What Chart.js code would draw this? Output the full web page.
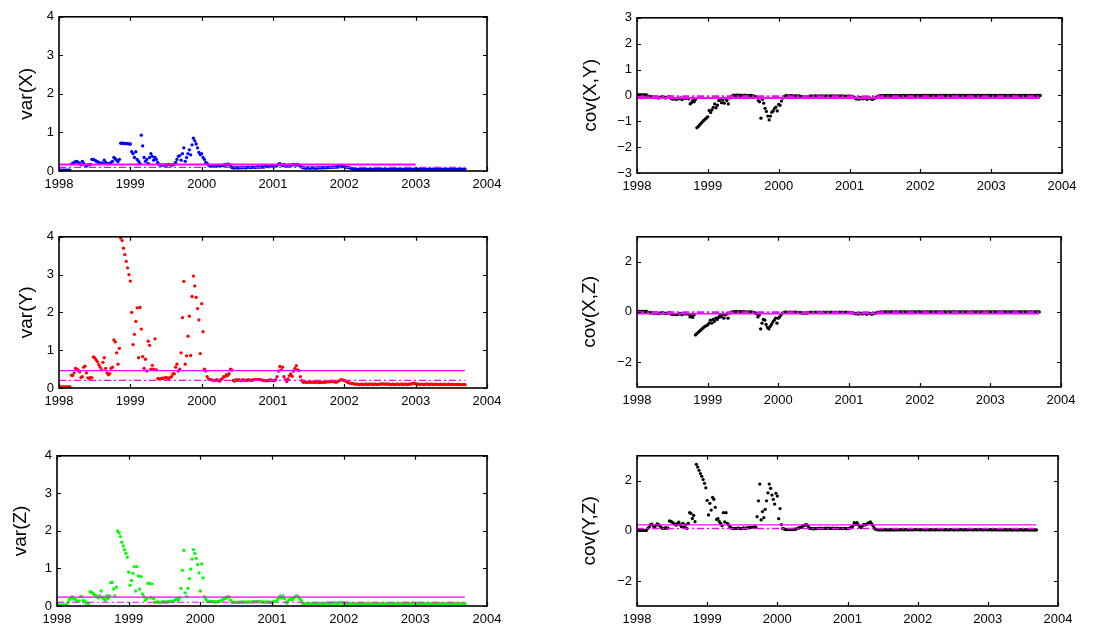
<!DOCTYPE html>
<html><head><meta charset="utf-8">
<script src="https://cdn.jsdelivr.net/npm/chart.js@4.4.1/dist/chart.umd.min.js"></script>
<style>
html,body{margin:0;padding:0;background:#fff;}
#fig{position:relative;width:1119px;height:628px;overflow:hidden;background:#fff;}
#fig canvas{position:absolute;}
</style></head><body><div id="fig"></div>
<script>
// ---- data (weekly samples starting at 1998.0) ----
const startYear = 1998;
const weeksPerYear = 52;
const xTicks = [1998, 1999, 2000, 2001, 2002, 2003, 2004];
const varTicks = [0, 1, 2, 3, 4];
const covXYTicks = [-3, -2, -1, 0, 1, 2, 3];
const covTicks = [-2, 0, 2];
const levelStart = 1998;
const levelEnd = 2003.69;
const varXMeanEnd = 2003.0;

const varX = [
0.02,0.02,0.02,0.02,0.02,0.02,0.02,0.02,0.02,0.18,0.20,0.22,0.24,
0.25,0.22,0.20,0.16,0.25,0.20,0.15,0.13,0.16,0.16,0.17,0.30,0.30,
0.28,0.26,0.24,0.22,0.20,0.21,0.20,0.28,0.22,0.19,0.19,0.20,0.22,
0.25,0.35,0.32,0.28,0.24,0.30,0.72,0.72,0.72,0.71,0.71,0.71,0.70,
0.70,0.50,0.45,0.35,0.50,0.30,0.25,0.20,0.93,0.65,0.35,0.25,0.30,
0.20,0.35,0.45,0.38,0.28,0.35,0.30,0.22,0.16,0.16,0.15,0.15,0.16,
0.15,0.16,0.17,0.16,0.15,0.16,0.17,0.22,0.30,0.38,0.40,0.28,0.45,
0.60,0.25,0.35,0.45,0.55,0.42,0.68,0.85,0.78,0.70,0.60,0.48,0.42,
0.45,0.35,0.30,0.22,0.20,0.15,0.14,0.13,0.14,0.13,0.12,0.13,0.15,
0.13,0.14,0.15,0.14,0.17,0.15,0.18,0.17,0.13,0.09,0.08,0.08,0.09,
0.08,0.08,0.09,0.08,0.09,0.09,0.08,0.09,0.10,0.09,0.09,0.10,0.10,
0.09,0.10,0.11,0.10,0.10,0.11,0.10,0.11,0.12,0.12,0.11,0.12,0.12,
0.12,0.11,0.12,0.14,0.18,0.19,0.16,0.14,0.17,0.15,0.13,0.15,0.16,
0.14,0.16,0.17,0.16,0.15,0.17,0.16,0.12,0.10,0.08,0.08,0.07,0.08,
0.08,0.07,0.08,0.08,0.08,0.07,0.08,0.08,0.09,0.08,0.08,0.09,0.08,
0.09,0.09,0.10,0.09,0.10,0.10,0.10,0.11,0.10,0.11,0.12,0.11,0.12,
0.11,0.10,0.10,0.09,0.08,0.07,0.06,0.05,0.05,0.05,0.04,0.05,0.05,
0.05,0.04,0.05,0.05,0.04,0.04,0.05,0.05,0.04,0.05,0.04,0.05,0.05,
0.04,0.05,0.05,0.04,0.05,0.05,0.04,0.04,0.05,0.05,0.04,0.05,0.05,
0.05,0.04,0.05,0.05,0.04,0.05,0.05,0.05,0.04,0.05,0.05,0.04,0.05,
0.05,0.05,0.04,0.05,0.05,0.04,0.05,0.05,0.04,0.05,0.05,0.04,0.05,
0.05,0.04,0.05,0.05,0.05,0.04,0.05,0.05,0.04,0.05,0.05,0.04,0.05,
0.05,0.04,0.05,0.05,0.04,0.05,0.05,0.04,0.05,0.05,0.05
];

const varY = [
0.03,0.03,0.03,0.03,0.03,0.03,0.03,0.03,0.03,0.34,0.33,0.40,0.52,
0.50,0.47,0.43,0.28,0.30,0.55,0.58,0.40,0.27,0.25,0.28,0.27,0.82,
0.80,0.75,0.70,0.62,0.55,0.48,0.68,0.80,0.52,0.40,0.35,0.38,0.52,
0.55,1.27,1.22,0.93,0.63,1.05,3.97,3.90,3.70,3.53,3.35,3.18,3.00,
2.83,2.00,1.15,1.42,1.76,2.12,0.80,2.13,1.56,0.83,0.52,0.76,0.45,
1.24,1.13,0.50,0.60,0.50,1.30,0.48,0.25,0.24,0.25,0.26,0.25,0.27,
0.28,0.26,0.25,0.28,0.30,0.37,0.38,0.55,0.63,0.45,0.50,0.93,1.86,
2.82,0.63,0.85,1.37,1.90,0.86,2.42,2.96,2.70,2.40,2.10,1.80,0.91,
2.23,1.49,0.50,0.45,0.30,0.24,0.22,0.22,0.21,0.20,0.20,0.22,0.20,
0.18,0.22,0.25,0.30,0.30,0.35,0.33,0.38,0.50,0.47,0.20,0.18,0.22,
0.20,0.22,0.20,0.19,0.22,0.20,0.21,0.20,0.22,0.21,0.20,0.21,0.22,
0.22,0.23,0.22,0.23,0.22,0.21,0.20,0.20,0.19,0.20,0.19,0.22,0.20,
0.20,0.19,0.22,0.30,0.45,0.57,0.48,0.55,0.30,0.22,0.17,0.24,0.33,
0.37,0.31,0.45,0.52,0.59,0.48,0.46,0.30,0.20,0.15,0.16,0.15,0.15,
0.16,0.15,0.15,0.16,0.15,0.15,0.16,0.15,0.14,0.15,0.15,0.16,0.15,
0.16,0.17,0.16,0.17,0.18,0.17,0.16,0.15,0.17,0.19,0.21,0.22,0.21,
0.20,0.18,0.16,0.14,0.13,0.12,0.12,0.11,0.10,0.10,0.10,0.09,0.10,
0.10,0.09,0.10,0.10,0.09,0.10,0.10,0.10,0.09,0.10,0.10,0.09,0.10,
0.10,0.11,0.11,0.10,0.11,0.10,0.10,0.10,0.09,0.10,0.10,0.09,0.10,
0.10,0.09,0.10,0.10,0.09,0.10,0.10,0.09,0.10,0.10,0.11,0.12,0.13,
0.11,0.10,0.10,0.09,0.10,0.10,0.09,0.10,0.10,0.10,0.09,0.10,0.10,
0.09,0.10,0.10,0.09,0.09,0.10,0.09,0.09,0.10,0.09,0.09,0.10,0.09,
0.09,0.10,0.09,0.09,0.09,0.10,0.09,0.09,0.09,0.09,0.09
];

const varZ = [
0.03,0.03,0.03,0.03,0.03,0.03,0.03,0.03,0.10,0.17,0.22,0.25,0.20,
0.18,0.15,0.13,0.13,0.25,0.25,0.15,0.12,0.08,0.08,0.07,0.38,0.36,
0.34,0.30,0.28,0.25,0.22,0.27,0.40,0.22,0.20,0.15,0.27,0.20,0.27,
0.62,0.63,0.45,0.27,0.50,2.00,1.95,1.85,1.70,1.60,1.50,1.40,1.30,
0.90,0.55,0.68,0.87,1.05,0.40,1.05,0.80,0.45,0.78,0.32,0.25,0.15,
0.20,0.60,0.60,0.22,0.59,0.20,0.10,0.10,0.11,0.10,0.09,0.10,0.12,
0.10,0.11,0.10,0.12,0.11,0.13,0.12,0.13,0.17,0.20,0.15,0.22,0.47,
0.95,1.48,0.35,0.25,0.47,0.73,0.98,1.25,1.50,1.40,1.27,1.10,0.88,
0.40,1.12,0.75,0.25,0.18,0.12,0.12,0.13,0.12,0.11,0.12,0.10,0.11,
0.12,0.13,0.14,0.16,0.18,0.20,0.22,0.25,0.24,0.15,0.10,0.09,0.10,
0.10,0.09,0.10,0.10,0.11,0.10,0.10,0.11,0.10,0.11,0.11,0.10,0.11,
0.12,0.11,0.12,0.11,0.12,0.11,0.10,0.11,0.10,0.10,0.11,0.10,0.10,
0.10,0.11,0.12,0.13,0.17,0.22,0.27,0.22,0.27,0.20,0.10,0.08,0.15,
0.17,0.20,0.17,0.22,0.25,0.27,0.25,0.20,0.15,0.08,0.07,0.06,0.06,
0.06,0.07,0.06,0.06,0.07,0.06,0.06,0.07,0.06,0.07,0.07,0.06,0.07,
0.07,0.08,0.07,0.07,0.08,0.07,0.08,0.08,0.07,0.08,0.08,0.09,0.08,
0.08,0.07,0.07,0.06,0.06,0.07,0.06,0.06,0.07,0.06,0.06,0.06,0.07,
0.06,0.06,0.07,0.06,0.06,0.06,0.07,0.06,0.06,0.06,0.07,0.06,0.06,
0.06,0.07,0.06,0.06,0.06,0.06,0.07,0.06,0.06,0.06,0.06,0.07,0.06,
0.06,0.06,0.07,0.06,0.06,0.06,0.07,0.06,0.06,0.07,0.07,0.08,0.07,
0.07,0.06,0.06,0.06,0.07,0.06,0.06,0.06,0.06,0.07,0.06,0.06,0.06,
0.06,0.06,0.07,0.06,0.06,0.06,0.06,0.06,0.07,0.06,0.06,0.06,0.06,
0.06,0.06,0.06,0.07,0.06,0.06,0.06,0.06,0.06,0.06,0.06
];

const covXY = [
0.02,0.02,0.02,0.02,0.02,0.02,0.02,0.02,-0.02,-0.05,-0.06,-0.05,-0.08,
-0.07,-0.06,-0.09,-0.10,-0.08,-0.06,-0.05,-0.07,-0.10,-0.08,-0.06,-0.05,-0.12,
-0.14,-0.13,-0.14,-0.15,-0.13,-0.12,-0.10,-0.16,-0.12,-0.10,-0.12,-0.10,-0.13,
-0.33,-0.28,-0.20,-0.25,-0.15,-1.25,-1.20,-1.14,-1.08,-1.02,-0.97,-0.92,-0.87,
-0.83,-0.58,-0.66,-0.56,-0.46,-0.33,-0.48,-0.38,-0.20,-0.15,-0.28,-0.18,-0.30,
-0.12,-0.20,-0.33,-0.10,-0.05,-0.02,0.01,0.00,0.01,0.01,0.00,0.01,0.00,
0.00,0.01,0.00,-0.01,0.00,-0.01,0.00,-0.02,-0.03,-0.05,-0.08,-0.20,-0.25,
-0.88,-0.15,-0.30,-0.50,-0.62,-0.80,-0.95,-0.80,-0.65,-0.60,-0.50,-0.45,-0.60,
-0.35,-0.38,-0.22,-0.10,-0.04,-0.02,-0.01,-0.02,-0.02,-0.01,-0.02,-0.02,-0.03,
-0.02,-0.03,-0.02,-0.04,-0.05,-0.06,-0.07,-0.06,-0.08,-0.05,-0.03,-0.02,-0.03,
-0.03,-0.02,-0.03,-0.03,-0.02,-0.03,-0.02,-0.03,-0.03,-0.02,-0.03,-0.03,-0.02,
-0.03,-0.02,-0.03,-0.03,-0.02,-0.03,-0.03,-0.02,-0.03,-0.03,-0.04,-0.03,-0.03,
-0.03,-0.03,-0.04,-0.06,-0.10,-0.14,-0.10,-0.15,-0.08,-0.12,-0.13,-0.10,-0.12,
-0.15,-0.12,-0.10,-0.14,-0.15,-0.12,-0.10,-0.06,-0.03,-0.02,-0.01,-0.01,-0.01,
-0.01,-0.01,0.00,-0.01,-0.01,0.00,-0.01,-0.01,0.00,-0.01,-0.01,0.00,-0.01,
-0.01,0.00,-0.01,-0.01,0.00,-0.01,0.00,-0.01,-0.01,0.00,-0.01,0.00,-0.01,
0.00,-0.01,0.00,0.00,-0.01,0.00,0.00,-0.01,0.00,0.00,-0.01,0.00,0.00,
-0.01,0.00,0.00,-0.01,0.00,0.00,0.00,-0.01,0.00,0.00,-0.01,0.00,0.00,
0.00,-0.01,0.00,0.00,-0.01,0.00,0.00,0.00,-0.01,0.00,0.00,-0.01,0.00,
0.00,0.00,-0.01,0.00,0.00,-0.01,0.00,0.00,0.00,-0.01,0.00,0.00,0.00,
0.00,-0.01,0.00,0.00,0.00,-0.01,0.00,0.00,-0.01,0.00,0.00,0.00,-0.01,
0.00,0.00,-0.01,0.00,0.00,0.00,-0.01,0.00,0.00,0.00,-0.01,0.00,0.00,
0.00,-0.01,0.00,0.00,0.00,-0.01,0.00,0.00,0.00,0.00,0.00
];

const covXZ = [
0.02,0.02,0.02,0.02,0.02,0.02,0.02,0.02,-0.01,-0.03,-0.04,-0.03,-0.05,
-0.05,-0.04,-0.06,-0.07,-0.05,-0.04,-0.03,-0.05,-0.07,-0.05,-0.04,-0.03,-0.08,
-0.10,-0.09,-0.10,-0.11,-0.09,-0.08,-0.07,-0.11,-0.08,-0.07,-0.08,-0.07,-0.09,
-0.20,-0.15,-0.22,-0.12,-0.92,-0.87,-0.82,-0.77,-0.72,-0.67,-0.62,-0.58,-0.55,
-0.52,-0.45,-0.33,-0.45,-0.30,-0.38,-0.25,-0.30,-0.22,-0.15,-0.20,-0.10,-0.25,
-0.12,-0.08,-0.25,-0.05,-0.02,0.00,0.01,0.00,0.01,0.00,0.01,0.00,0.00,
0.01,0.00,0.00,-0.01,0.00,-0.01,0.00,-0.01,-0.02,-0.04,-0.08,-0.20,-0.12,
-0.68,-0.45,-0.30,-0.33,-0.50,-0.62,-0.68,-0.58,-0.50,-0.40,-0.33,-0.25,-0.45,
-0.25,-0.20,-0.12,-0.05,-0.02,-0.01,-0.01,-0.02,-0.01,-0.01,-0.02,-0.01,-0.02,
-0.01,-0.02,-0.02,-0.03,-0.04,-0.05,-0.05,-0.04,-0.05,-0.03,-0.02,-0.01,-0.02,
-0.02,-0.01,-0.02,-0.02,-0.01,-0.02,-0.02,-0.01,-0.02,-0.02,-0.01,-0.02,-0.02,
-0.01,-0.02,-0.02,-0.01,-0.02,-0.02,-0.01,-0.02,-0.01,-0.02,-0.02,-0.01,-0.02,
-0.02,-0.02,-0.03,-0.04,-0.06,-0.08,-0.06,-0.09,-0.05,-0.07,-0.08,-0.06,-0.07,
-0.09,-0.07,-0.06,-0.08,-0.09,-0.07,-0.06,-0.04,-0.02,-0.01,-0.01,0.00,-0.01,
0.00,-0.01,0.00,0.00,-0.01,0.00,0.00,-0.01,0.00,0.00,-0.01,0.00,0.00,
-0.01,0.00,0.00,-0.01,0.00,0.00,-0.01,0.00,0.00,0.00,-0.01,0.00,0.00,
0.00,-0.01,0.00,0.00,-0.01,0.00,0.00,-0.01,0.00,0.00,-0.01,0.00,0.00,
-0.01,0.00,0.00,-0.01,0.00,0.00,0.00,-0.01,0.00,0.00,-0.01,0.00,0.00,
0.00,-0.01,0.00,0.00,-0.01,0.00,0.00,0.00,-0.01,0.00,0.00,-0.01,0.00,
0.00,0.00,-0.01,0.00,0.00,-0.01,0.00,0.00,0.00,-0.01,0.00,0.00,0.00,
0.00,-0.01,0.00,0.00,0.00,-0.01,0.00,0.00,-0.01,0.00,0.00,0.00,-0.01,
0.00,0.00,-0.01,0.00,0.00,0.00,-0.01,0.00,0.00,0.00,-0.01,0.00,0.00,
0.00,-0.01,0.00,0.00,0.00,-0.01,0.00,0.00,0.00,0.00,0.00
];

const covYZ = [
0.02,0.02,0.02,0.02,0.02,0.02,0.02,0.02,0.10,0.15,0.25,0.27,0.20,
0.15,0.22,0.28,0.25,0.20,0.13,0.10,0.10,0.12,0.12,0.11,0.40,0.38,
0.35,0.30,0.27,0.23,0.30,0.35,0.24,0.17,0.30,0.15,0.24,0.10,0.30,
0.73,0.70,0.50,0.62,0.37,2.66,2.55,2.42,2.29,2.18,2.05,1.90,1.72,
1.22,0.64,1.10,0.83,1.34,1.26,0.94,0.46,0.49,0.37,0.30,0.21,0.73,
0.36,0.73,0.30,0.24,0.15,0.12,0.10,0.09,0.10,0.10,0.11,0.10,0.09,
0.10,0.12,0.10,0.11,0.13,0.12,0.14,0.15,0.14,0.16,0.15,0.57,1.20,
1.87,0.44,0.77,0.53,0.86,1.20,1.52,1.87,1.70,1.43,1.26,1.07,1.50,
1.39,0.49,0.89,0.25,0.10,0.08,0.06,0.05,0.06,0.05,0.06,0.05,0.07,
0.06,0.08,0.10,0.12,0.14,0.16,0.20,0.22,0.25,0.24,0.18,0.10,0.09,
0.10,0.08,0.10,0.09,0.10,0.10,0.11,0.10,0.10,0.10,0.11,0.10,0.11,
0.10,0.10,0.11,0.10,0.10,0.11,0.10,0.09,0.10,0.09,0.10,0.10,0.09,
0.09,0.10,0.12,0.15,0.20,0.33,0.26,0.33,0.25,0.18,0.13,0.20,0.26,
0.24,0.26,0.30,0.33,0.36,0.28,0.20,0.10,0.06,0.05,0.04,0.05,0.04,
0.04,0.05,0.04,0.04,0.05,0.04,0.04,0.05,0.04,0.04,0.05,0.04,0.05,
0.04,0.05,0.05,0.04,0.05,0.05,0.04,0.05,0.05,0.04,0.05,0.05,0.05,
0.05,0.05,0.04,0.05,0.05,0.05,0.04,0.05,0.05,0.04,0.05,0.05,0.05,
0.04,0.05,0.05,0.04,0.05,0.05,0.05,0.04,0.05,0.05,0.04,0.05,0.05,
0.05,0.04,0.05,0.05,0.04,0.05,0.05,0.05,0.04,0.05,0.05,0.04,0.05,
0.05,0.05,0.04,0.05,0.05,0.04,0.05,0.05,0.05,0.04,0.05,0.05,0.05,
0.04,0.05,0.05,0.04,0.05,0.05,0.04,0.05,0.04,0.04,0.05,0.04,0.04,
0.05,0.04,0.04,0.05,0.04,0.04,0.04,0.05,0.04,0.04,0.04,0.05,0.04,
0.04,0.04,0.04,0.05,0.04,0.04,0.04,0.04,0.04,0.04,0.04
];

// reference levels: [solid, dash-dot]
const varXLevels = [0.17, 0.095];
const varYLevels = [0.46, 0.20];
const varZLevels = [0.235, 0.10];
const covXYLevels = [-0.10, -0.03];
const covXZLevels = [-0.075, -0.015];
const covYZLevels = [0.24, 0.10];

// ---- rendering ----
const FONT = '"Liberation Sans", Arial, Helvetica, sans-serif';
const fig = document.getElementById('fig');

function toPoints(vals) {
  return vals.map((v, i) => ({ x: startYear + i / weeksPerYear, y: v }));
}

const boxTicks = {
  id: 'boxTicks',
  afterDraw(chart) {
    const { ctx, chartArea: a } = chart;
    const xs = chart.scales.x, ys = chart.scales.y;
    const tl = 4;
    ctx.save();
    ctx.strokeStyle = '#000';
    ctx.lineWidth = 1.2;
    ctx.beginPath();
    xs.ticks.forEach(t => {
      const p = Math.round(xs.getPixelForValue(t.value)) + 0.5;
      ctx.moveTo(p, a.bottom); ctx.lineTo(p, a.bottom - tl);
      ctx.moveTo(p, a.top); ctx.lineTo(p, a.top + tl);
    });
    ys.ticks.forEach(t => {
      const p = Math.round(ys.getPixelForValue(t.value)) + 0.5;
      ctx.moveTo(a.left, p); ctx.lineTo(a.left + tl, p);
      ctx.moveTo(a.right, p); ctx.lineTo(a.right - tl, p);
    });
    ctx.stroke();
    ctx.lineWidth = 1.6;
    ctx.strokeRect(a.left, a.top, a.right - a.left, a.bottom - a.top);
    ctx.restore();
  }
};

const panels = [
  { box: {l: 59, t: 14, r: 487, b: 171}, axisW: 56, titleX: 27, title: 'var(X)', values: varX, color: '#0000ff',
    levels: varXLevels, meanEnd: varXMeanEnd, yMin: 0, yMax: 4, yTicks: varTicks, meanW: 2, medW: 1.2 },
  { box: {l: 637, t: 15, r: 1062, b: 173}, axisW: 62, titleX: 591, title: 'cov(X,Y)', values: covXY, color: '#000000',
    levels: covXYLevels, meanEnd: levelEnd, yMin: -3, yMax: 3, yTicks: covXYTicks, meanW: 2, medW: 2 },
  { box: {l: 59, t: 234, r: 487, b: 388}, axisW: 56, titleX: 27, title: 'var(Y)', values: varY, color: '#ff0000',
    levels: varYLevels, meanEnd: levelEnd, yMin: 0, yMax: 4, yTicks: varTicks, meanW: 1.2, medW: 1.2 },
  { box: {l: 637, t: 234, r: 1061, b: 387}, axisW: 62, titleX: 590, title: 'cov(X,Z)', values: covXZ, color: '#000000',
    levels: covXZLevels, meanEnd: levelEnd, yMin: -3, yMax: 3, yTicks: covTicks, meanW: 1.5, medW: 2 },
  { box: {l: 57, t: 453, r: 487, b: 606}, axisW: 56, titleX: 21, title: 'var(Z)', values: varZ, color: '#00ff00',
    levels: varZLevels, meanEnd: levelEnd, yMin: 0, yMax: 4, yTicks: varTicks, meanW: 1.2, medW: 1.2 },
  { box: {l: 637, t: 453, r: 1058, b: 606}, axisW: 62, titleX: 590, title: 'cov(Y,Z)', values: covYZ, color: '#000000',
    levels: covYZLevels, meanEnd: levelEnd, yMin: -3, yMax: 3, yTicks: covTicks, meanW: 1.2, medW: 1.5 }
];

const TITLE_SIZE = 19;
const TICK_SIZE = 13;
const PAD_TOP = 10, PAD_RIGHT = 24, X_AXIS_H = 24;

panels.forEach(p => {
  const cl = p.box.l - p.axisW;
  const ct = p.box.t - PAD_TOP;
  const cw = p.box.r + PAD_RIGHT - cl;
  const ch = p.box.b + X_AXIS_H - ct;
  const c = document.createElement('canvas');
  c.width = cw; c.height = ch;
  c.style.left = cl + 'px'; c.style.top = ct + 'px';
  c.style.width = cw + 'px'; c.style.height = ch + 'px';
  fig.appendChild(c);
  const titlePad = p.titleX - cl - TITLE_SIZE * 1.2 / 2;
  new Chart(c, {
    type: 'scatter',
    data: {
      datasets: [
        { type: 'line', data: [{x: levelStart, y: p.levels[0]}, {x: p.meanEnd, y: p.levels[0]}],
          borderColor: '#ff00ff', borderWidth: p.meanW, pointRadius: 0, fill: false, order: 0 },
        { type: 'line', data: [{x: levelStart, y: p.levels[1]}, {x: levelEnd, y: p.levels[1]}],
          borderColor: '#ff00ff', borderWidth: p.medW, borderDash: [7, 3, 2, 3], pointRadius: 0, fill: false, order: 0 },
        { data: toPoints(p.values), backgroundColor: p.color, borderWidth: 0, pointRadius: 1.65, order: 1 }
      ]
    },
    options: {
      responsive: false, animation: false, devicePixelRatio: 1, events: [],
      layout: { padding: { left: 0, top: PAD_TOP, right: PAD_RIGHT, bottom: 0 } },
      plugins: { legend: { display: false }, tooltip: { enabled: false }, title: { display: false } },
      scales: {
        x: {
          type: 'linear', min: 1998, max: 2004,
          grid: { display: false, drawTicks: false }, border: { display: false },
          afterBuildTicks(s) { s.ticks = xTicks.map(v => ({ value: v })); },
          afterFit(s) { s.height = X_AXIS_H; },
          ticks: { padding: 6, color: '#000', font: { family: FONT, size: TICK_SIZE }, maxRotation: 0, autoSkip: false,
                   callback: v => String(v) }
        },
        y: {
          type: 'linear', min: p.yMin, max: p.yMax,
          grid: { display: false, drawTicks: false }, border: { display: false },
          afterBuildTicks(s) { s.ticks = p.yTicks.map(v => ({ value: v })); },
          afterFit(s) { s.width = p.axisW; },
          ticks: { padding: 5, color: '#000', font: { family: FONT, size: TICK_SIZE }, autoSkip: false,
                   callback: v => (v < 0 ? '\u2212' + Math.abs(v) : String(v)) },
          title: { display: true, text: p.title, color: '#000', font: { family: FONT, size: TITLE_SIZE },
                   padding: { top: titlePad, bottom: 0 } }
        }
      }
    },
    plugins: [boxTicks]
  });
});
</script>
</body></html>
